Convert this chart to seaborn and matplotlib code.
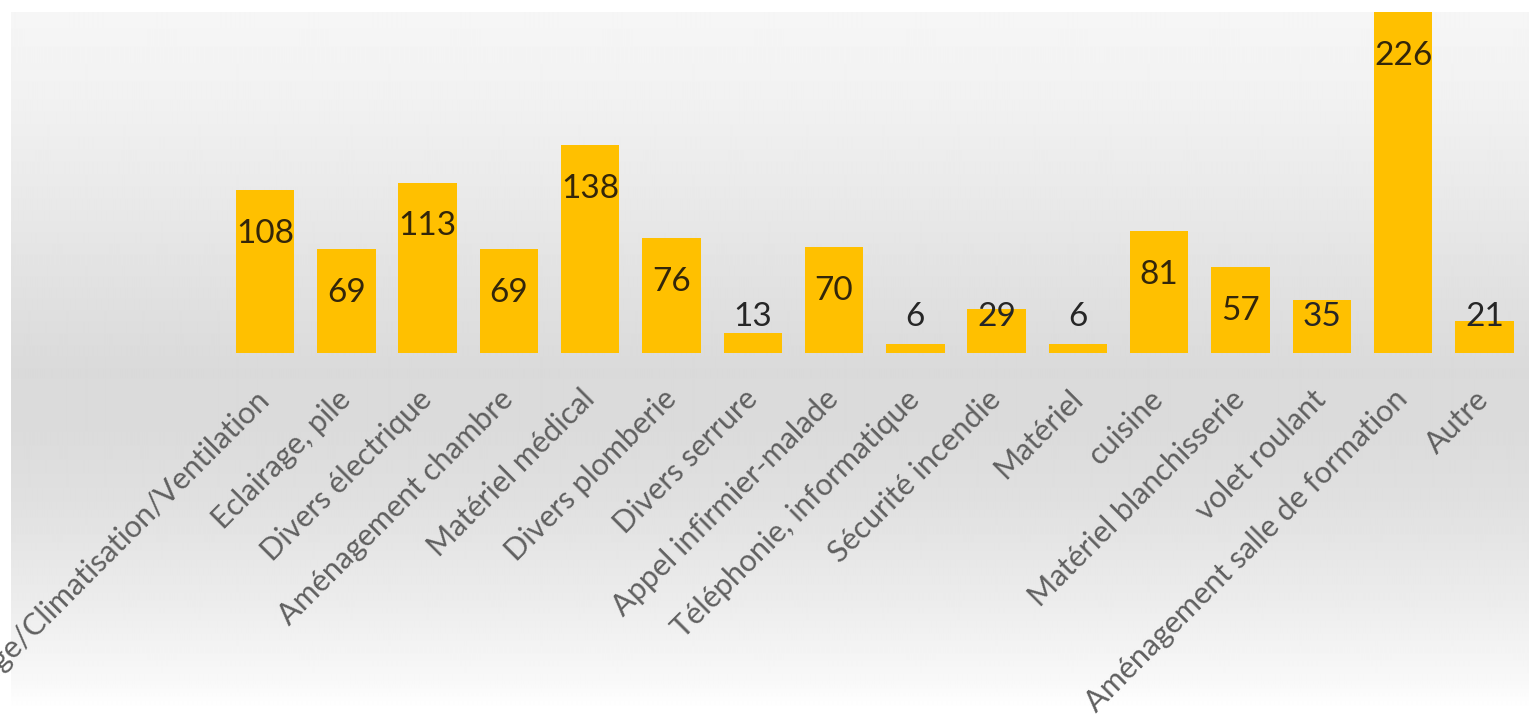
import numpy as np
import pandas as pd
import seaborn as sns
import matplotlib.pyplot as plt

categories = [
    "Chauffage/Climatisation/Ventilation",
    "Eclairage, pile",
    "Divers électrique",
    "Aménagement chambre",
    "Matériel médical",
    "Divers plomberie",
    "Divers serrure",
    "Appel infirmier-malade",
    "Téléphonie, informatique",
    "Sécurité incendie",
    "Matériel",
    "cuisine",
    "Matériel blanchisserie",
    "volet roulant",
    "Aménagement salle de formation",
    "Autre",
]
values = [108, 69, 113, 69, 138, 76, 13, 70, 6, 29, 6, 81, 57, 35, 226, 21]

sns.set_theme(style="white")
plt.rcParams["font.family"] = ["Lato", "DejaVu Sans"]

W, H = 1529, 720
fig = plt.figure(figsize=(W / 100, H / 100), dpi=100, facecolor="white")

# gradient background panel
bg = fig.add_axes([11 / W, 0, 1 - 11 / W, (H - 12) / H], zorder=0)
rows = np.arange(12, H)
stops_y = [12, 100, 200, 300, 370, 430, 500, 600, 680, 705, 720]
stops_v = [246, 241, 233, 224, 218, 219, 224, 236, 248, 254, 255]
col = np.interp(rows, stops_y, stops_v)
grad = np.repeat(col[:, None], 10, axis=1)
bg.imshow(grad, aspect="auto", cmap="gray", vmin=0, vmax=255, interpolation="bilinear")
bg.axis("off")

ax = fig.add_axes([224.4 / W, (H - 353) / H, (1525 - 224.4) / W, 341 / H], zorder=1)
ax.patch.set_alpha(0)
df = pd.DataFrame({"cat": categories, "val": values})
sns.barplot(data=df, x="cat", y="val", color="#FFC000", saturation=1, width=0.72,
            linewidth=0, edgecolor="none", ax=ax)
ax.set_ylim(0, 226)
ax.set_xlim(-0.5, len(categories) - 0.5)
for i, v in enumerate(values):
    inside = v - 29 >= 24
    ax.text(i, max(v - 29, 24), str(v), ha="center", va="center",
            fontsize=24, color="#33260a" if inside else "#262626", zorder=5)

ax.set_xticks(range(len(categories)))
ax.set_xticklabels(categories, rotation=45, ha="right", va="center",
                   rotation_mode="anchor", fontsize=22, color="#606060")
ax.tick_params(axis="x", length=0, pad=30)
ax.set_yticks([])
ax.set_xlabel("")
ax.set_ylabel("")
for s in ax.spines.values():
    s.set_visible(False)

fig.savefig("out.png", dpi=100, facecolor="white")
